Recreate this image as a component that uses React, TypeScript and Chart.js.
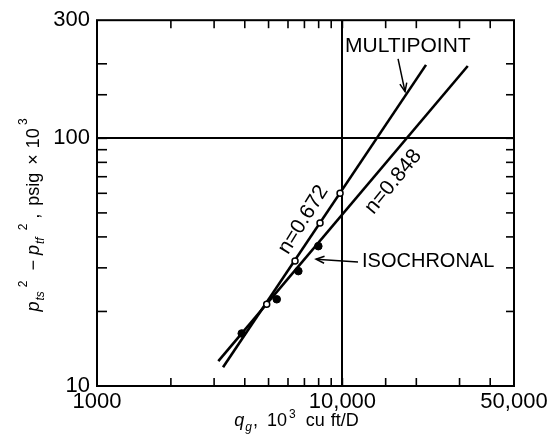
import React, { useEffect, useRef } from "react";
import { Chart, registerables } from "chart.js";

Chart.register(...registerables);

// ---- axis ranges & labels ----
const xMin = 1000;
const xMax = 50000;
const yMin = 10;
const yMax = 300;
const xLabelValues = [1000, 10000, 50000];
const xLabelTexts = ["1000", "10,000", "50,000"];
const yLabelValues = [10, 100, 300];
const yLabelTexts = ["10", "100", "300"];
const gridQ = [10000];
const gridDP = [100];

// ---- fitted lines (endpoints) ----
const multipointLineQ = [3262, 21900];
const multipointLineDP = [11.9, 198];
const isochronalLineQ = [3121, 32400];
const isochronalLineDP = [12.6, 196];

// ---- measured points ----
const multipointQ = [4914, 6410, 8102, 9778];
const multipointDP = [21.4, 32.0, 45.5, 60.0];
const isochronalQ = [3888, 5399, 6612, 7975];
const isochronalDP = [16.3, 22.4, 29.1, 36.7];

// ---- annotations (data coordinates) ----
const noteTexts = ["MULTIPOINT", "ISOCHRONAL", "n=0.672", "n=0.848"];
const noteQ = [10247, 12020, 6929, 16130];
const noteDP = [236, 31.7, 46.9, 66.8];
const noteAngleDeg = [0, 0, -58, -50.6];
const noteAlign = ["left", "left", "center", "center"];
const noteSize = [21, 20, 21, 21];

const arrowFromQ = [16850, 11573];
const arrowFromDP = [209.5, 31.7];
const arrowToQ = [17990, 7806];
const arrowToDP = [154.5, 32.5];

const FONT = "'Liberation Sans', Arial, Helvetica, sans-serif";

type Seg = { t: string; it?: boolean; sz: number; dy?: number; gap?: number };

const xTitle: Seg[] = [
  { t: "q", it: true, sz: 18 },
  { t: "g", it: true, sz: 12, dy: 5, gap: 1 },
  { t: ",", sz: 18, gap: 1 },
  { t: "10", sz: 18, gap: 9 },
  { t: "3", sz: 12, dy: -8, gap: 2 },
  { t: "cu", sz: 18, gap: 10 },
  { t: "ft/D", sz: 18, gap: 6 },
];

const yTitle: Seg[] = [
  { t: "p", it: true, sz: 18 },
  { t: "ts", it: true, sz: 12, dy: 5, gap: 1 },
  { t: "2", sz: 12, dy: -12, gap: 4 },
  { t: "−", sz: 18, gap: 10 },
  { t: "p", it: true, sz: 18, gap: 5 },
  { t: "tf", it: true, sz: 12, dy: 5, gap: 1 },
  { t: "2", sz: 12, dy: -12, gap: 7 },
  { t: ",", sz: 18, gap: 5 },
  { t: "psig", sz: 18, gap: 8 },
  { t: "×", sz: 18, gap: 8 },
  { t: "10", sz: 18, gap: 6 },
  { t: "3", sz: 12, dy: -12, gap: 3 },
];

function segFont(s: Seg) {
  return `${s.it ? "italic " : ""}${s.sz}px ${FONT}`;
}

function drawRich(ctx: CanvasRenderingContext2D, segs: Seg[], cx: number, cy: number, rot: number) {
  ctx.save();
  ctx.translate(cx, cy);
  ctx.rotate(rot);
  let w = 0;
  segs.forEach((s) => {
    ctx.font = segFont(s);
    w += (s.gap || 0) + ctx.measureText(s.t).width;
  });
  let x = -w / 2;
  ctx.textAlign = "left";
  ctx.textBaseline = "alphabetic";
  ctx.fillStyle = "#000";
  segs.forEach((s) => {
    ctx.font = segFont(s);
    x += s.gap || 0;
    ctx.fillText(s.t, x, s.dy || 0);
    x += ctx.measureText(s.t).width;
  });
  ctx.restore();
}

function near(a: number, b: number) {
  return Math.abs(a - b) < 1e-6 * Math.abs(b);
}

const decoPlugin = {
  id: "deco",
  beforeDatasetsDraw(chart: any) {
    const { ctx, chartArea: a, scales } = chart;
    const x = scales.x;
    const y = scales.y;
    ctx.save();
    ctx.strokeStyle = "#000";
    ctx.lineWidth = 2;
    ctx.strokeRect(a.left, a.top, a.right - a.left, a.bottom - a.top);
    ctx.lineWidth = 1.6;
    const L = 8;
    const seg = (x1: number, y1: number, x2: number, y2: number) => {
      ctx.beginPath();
      ctx.moveTo(x1, y1);
      ctx.lineTo(x2, y2);
      ctx.stroke();
    };
    x.ticks.forEach((t: any) => {
      if (near(t.value, xMin) || near(t.value, xMax)) return;
      const px = x.getPixelForValue(t.value);
      seg(px, a.top, px, a.top + L);
      seg(px, a.bottom, px, a.bottom - L);
    });
    y.ticks.forEach((t: any) => {
      if (near(t.value, yMin) || near(t.value, yMax)) return;
      const py = y.getPixelForValue(t.value);
      seg(a.left, py, a.left + L + 2, py);
      seg(a.right, py, a.right - L, py);
    });
    ctx.restore();
  },
  afterDatasetsDraw(chart: any) {
    const { ctx, scales } = chart;
    const x = scales.x;
    const y = scales.y;
    ctx.save();
    ctx.fillStyle = "#000";
    ctx.strokeStyle = "#000";
    noteTexts.forEach((t, i) => {
      const px = x.getPixelForValue(noteQ[i]);
      const py = y.getPixelForValue(noteDP[i]);
      ctx.save();
      ctx.translate(px, py);
      ctx.rotate((noteAngleDeg[i] * Math.PI) / 180);
      ctx.font = `${noteSize[i]}px ${FONT}`;
      ctx.textAlign = noteAlign[i] as CanvasTextAlign;
      ctx.textBaseline = "middle";
      ctx.fillText(t, 0, 0);
      ctx.restore();
    });
    ctx.lineWidth = 1.5;
    arrowFromQ.forEach((_, i) => {
      const x1 = x.getPixelForValue(arrowFromQ[i]);
      const y1 = y.getPixelForValue(arrowFromDP[i]);
      const x2 = x.getPixelForValue(arrowToQ[i]);
      const y2 = y.getPixelForValue(arrowToDP[i]);
      ctx.beginPath();
      ctx.moveTo(x1, y1);
      ctx.lineTo(x2, y2);
      ctx.stroke();
      const ang = Math.atan2(y1 - y2, x1 - x2);
      const hl = 9;
      const spread = 0.4;
      ctx.beginPath();
      ctx.moveTo(x2 + hl * Math.cos(ang + spread), y2 + hl * Math.sin(ang + spread));
      ctx.lineTo(x2, y2);
      ctx.lineTo(x2 + hl * Math.cos(ang - spread), y2 + hl * Math.sin(ang - spread));
      ctx.stroke();
    });
    ctx.restore();
  },
  afterDraw(chart: any) {
    const { ctx, chartArea: a } = chart;
    drawRich(ctx, xTitle, (a.left + a.right) / 2 - 9, 426, 0);
    drawRich(ctx, yTitle, 39, 215, -Math.PI / 2);
  },
};

function pts(q: number[], dp: number[]) {
  return q.map((v, i) => ({ x: v, y: dp[i] }));
}

export default function App() {
  const ref = useRef<HTMLCanvasElement>(null);
  useEffect(() => {
    document.body.style.margin = "0";
    const chart = new Chart(ref.current as HTMLCanvasElement, {
      type: "scatter",
      data: {
        datasets: [
          {
            label: "Multipoint",
            data: pts(multipointQ, multipointDP),
            pointRadius: 3,
            pointBackgroundColor: "#fff",
            pointBorderColor: "#000",
            pointBorderWidth: 1.5,
            showLine: false,
          },
          {
            label: "Isochronal",
            data: pts(isochronalQ, isochronalDP),
            pointRadius: 3.8,
            pointBackgroundColor: "#000",
            pointBorderColor: "#000",
            pointBorderWidth: 1,
            showLine: false,
          },
          {
            label: "Multipoint fit",
            data: pts(multipointLineQ, multipointLineDP),
            showLine: true,
            borderColor: "#000",
            borderWidth: 2.6,
            pointRadius: 0,
            fill: false,
          },
          {
            label: "Isochronal fit",
            data: pts(isochronalLineQ, isochronalLineDP),
            showLine: true,
            borderColor: "#000",
            borderWidth: 2.6,
            pointRadius: 0,
            fill: false,
          },
        ],
      } as any,
      options: {
        responsive: false,
        animation: false,
        devicePixelRatio: 1,
        layout: { padding: { left: 0, right: 42, top: 17, bottom: 0 } },
        plugins: { legend: { display: false }, tooltip: { enabled: false } },
        scales: {
          x: {
            type: "logarithmic",
            min: xMin,
            max: xMax,
            afterFit: (s: any) => {
              s.height = 62;
            },
            border: { display: false },
            grid: {
              drawTicks: false,
              lineWidth: 2,
              color: (c: any) =>
                c.tick && gridQ.some((g) => near(c.tick.value, g)) ? "#000" : "rgba(0,0,0,0)",
            },
            ticks: {
              autoSkip: false,
              maxRotation: 0,
              padding: 3,
              color: "#000",
              font: { family: FONT, size: 22 },
              callback: (v: any) => {
                const i = xLabelValues.findIndex((g) => near(Number(v), g));
                return i >= 0 ? xLabelTexts[i] : "";
              },
            },
          },
          y: {
            type: "logarithmic",
            min: yMin,
            max: yMax,
            afterFit: (s: any) => {
              s.width = 97;
            },
            border: { display: false },
            grid: {
              drawTicks: false,
              lineWidth: 2,
              color: (c: any) =>
                c.tick && gridDP.some((g) => near(c.tick.value, g)) ? "#000" : "rgba(0,0,0,0)",
            },
            ticks: {
              autoSkip: false,
              padding: 7,
              color: "#000",
              font: { family: FONT, size: 22 },
              callback: (v: any) => {
                const i = yLabelValues.findIndex((g) => near(Number(v), g));
                return i >= 0 ? yLabelTexts[i] : "";
              },
            },
          },
        },
      } as any,
      plugins: [decoPlugin],
    });
    return () => chart.destroy();
  }, []);
  return (
    <div style={{ width: 556, height: 448, background: "#fff" }}>
      <canvas ref={ref} width={556} height={448} style={{ display: "block" }} />
    </div>
  );
}
